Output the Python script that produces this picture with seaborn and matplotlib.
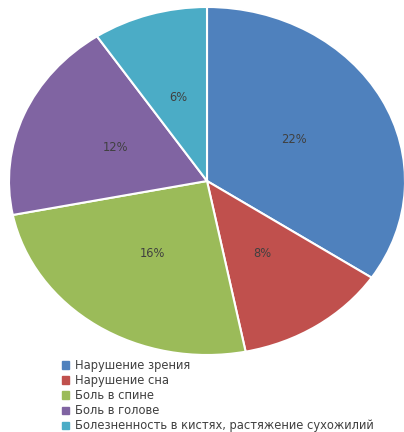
import matplotlib
matplotlib.use("Agg")
import matplotlib.pyplot as plt
import matplotlib.patches as mpatches
import seaborn as sns

categories = ["Нарушение зрения", "Нарушение сна", "Боль в спине",
              "Боль в голове", "Болезненность в кистях, растяжение сухожилий"]
values = [22, 8, 16, 12, 6]
colors = ["#4F81BD", "#C0504D", "#9BBB59", "#8064A2", "#4BACC6"]

sns.set_style("white")
plt.rcParams['font.family'] = ['DejaVu Sans']

fig = plt.figure(figsize=(4.04, 4.32), dpi=100)
ax = fig.add_axes([9/404, 77/432, 396/404, 348/432])
total = sum(values)
palette = sns.color_palette(colors)
wedges, texts, autotexts = ax.pie(
    values, colors=palette, startangle=90, counterclock=False,
    wedgeprops=dict(edgecolor="white", linewidth=1.5),
    autopct=lambda p: f"{round(p * total / 100)}%", pctdistance=0.5,
    textprops=dict(color="#404040", fontsize=8.3))
ax.set_aspect('auto')
ax.set_xlim(-1, 1)
ax.set_ylim(-1, 1)
ax.axis('off')

handles = [mpatches.Patch(color=c) for c in colors]
fig.legend(handles, categories, loc='upper left',
           bbox_to_anchor=(62/404, 1 - 359/432), frameon=False,
           fontsize=8.3, handlelength=0.6, handleheight=0.6,
           handletextpad=0.5, labelspacing=0.18, borderpad=0, borderaxespad=0,
           labelcolor="#404040")

fig.savefig("out.png", dpi=100)
